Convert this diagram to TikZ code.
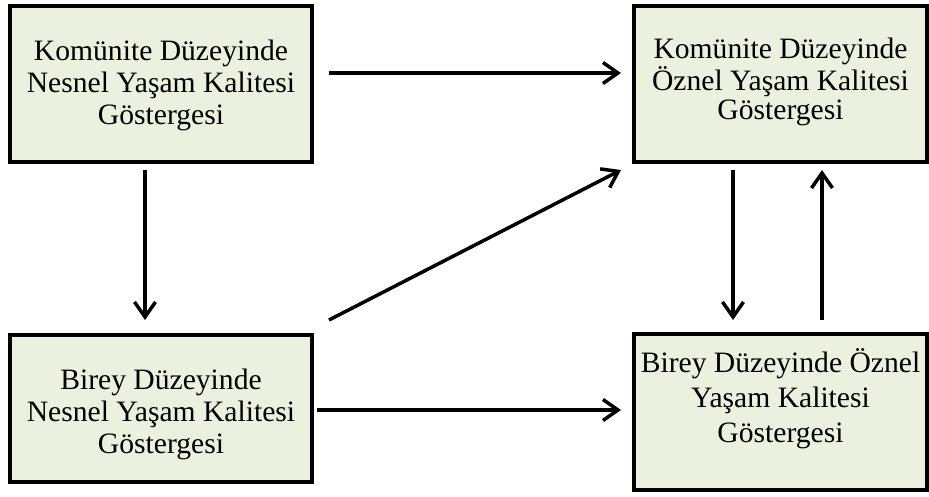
\documentclass[tikz,border=0pt]{standalone}
\usepackage{fontspec}
\setmainfont{Liberation Serif}
\usetikzlibrary{arrows.meta,calc}
\definecolor{boxfill}{HTML}{EBF1DE}
\tikzset{
  box/.style={draw=black, line width=4pt, fill=boxfill, inner sep=0pt},
  txt/.style={align=center, font=\fontsize{29.6}{32}\selectfont, inner sep=0pt},
  conn/.style={line width=3.5pt, -{Straight Barb[length=15pt,width=21pt,line width=3.5pt]}},
}
\begin{document}
\begin{tikzpicture}[x=1pt,y=1pt]
\useasboundingbox (0,0) rectangle (929,496);
\node[box, minimum width=302pt, minimum height=156pt] (tl) at (161,412) {};
\node[box, minimum width=293pt, minimum height=156pt] (tr) at (780.5,412) {};
\node[box, minimum width=302pt, minimum height=147pt] (bl) at (161,87.5) {};
\node[box, minimum width=293pt, minimum height=156pt] (br) at (780.5,84) {};
\node[txt] (tltext) at (161,411) {Komünite Düzeyinde\\Nesnel Yaşam Kalitesi\\Göstergesi};
\node[txt, font=\fontsize{29.6}{29}\selectfont] (trtext) at (780.5,414) {Komünite Düzeyinde\\Öznel Yaşam Kalitesi\\Göstergesi};
\node[txt] (bltext) at (161,82) {Birey Düzeyinde\\Nesnel Yaşam Kalitesi\\Göstergesi};
\node[txt, font=\fontsize{29.6}{35}\selectfont] (brtext) at (780.5,97) {Birey Düzeyinde Öznel\\Yaşam Kalitesi\\Göstergesi};
\draw[conn] ([shift={(15,11)}]tl.east) -- ([shift={(-11,11)}]tr.west);
\draw[conn] ([shift={(15,13)}]bl.north east) -- ([shift={(-11,-6)}]tr.south west);
\draw[conn] ([shift={(3,-1.5)}]bl.east) -- ([shift={(-11,2)}]br.west);
\draw[conn] ([shift={(-16,-6)}]tl.south) -- ([shift={(-16,13)}]bl.north);
\draw[conn] ([shift={(-47.5,-6)}]tr.south) -- ([shift={(-47.5,12)}]br.north);
\draw[conn] ([shift={(41.5,12)}]br.north) -- ([shift={(41.5,-6)}]tr.south);
\end{tikzpicture}
\end{document}
